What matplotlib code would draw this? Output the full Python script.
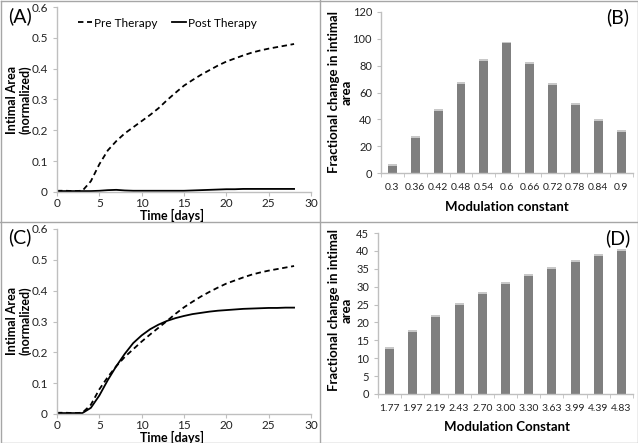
import matplotlib
matplotlib.use("Agg")
import matplotlib.pyplot as plt
from matplotlib.lines import Line2D

plt.rcParams['font.family'] = ['Lato', 'DejaVu Sans']

# time course data (days, normalized intimal area)
days = list(range(29))
pre_A = [0.004, 0.004, 0.003, 0.004, 0.035, 0.09, 0.135, 0.165, 0.19, 0.21,
         0.23, 0.25, 0.272, 0.298, 0.322, 0.345, 0.363, 0.38, 0.395, 0.41,
         0.423, 0.433, 0.443, 0.452, 0.459, 0.465, 0.47, 0.475, 0.48]
post_A = [0.003, 0.003, 0.003, 0.003, 0.003, 0.004, 0.006, 0.007, 0.005, 0.004,
          0.004, 0.004, 0.004, 0.004, 0.004, 0.004, 0.005, 0.006, 0.007, 0.008,
          0.009, 0.009, 0.01, 0.01, 0.01, 0.01, 0.01, 0.01, 0.01]
pre_C = [0.004, 0.004, 0.003, 0.004, 0.03, 0.08, 0.12, 0.155, 0.185, 0.21,
         0.235, 0.258, 0.28, 0.302, 0.325, 0.346, 0.364, 0.381, 0.396, 0.41,
         0.423, 0.433, 0.443, 0.452, 0.459, 0.465, 0.47, 0.475, 0.48]
post_C = [0.003, 0.003, 0.003, 0.003, 0.02, 0.06, 0.11, 0.155, 0.195, 0.23,
          0.255, 0.275, 0.29, 0.302, 0.311, 0.318, 0.324, 0.328, 0.332, 0.335,
          0.337, 0.339, 0.341, 0.342, 0.343, 0.344, 0.344, 0.345, 0.345]

# bar chart data
mod_B = ['0.3', '0.36', '0.42', '0.48', '0.54', '0.6', '0.66', '0.72', '0.78', '0.84', '0.9']
frac_B = [7, 27.5, 48, 67.5, 85, 98, 83, 67, 52, 40.5, 32]
mod_D = ['1.77', '1.97', '2.19', '2.43', '2.70', '3.00', '3.30', '3.63', '3.99', '4.39', '4.83']
frac_D = [13.2, 17.9, 22, 25.5, 28.5, 31.2, 33.6, 35.6, 37.5, 39.1, 40.5]

W, H = 638, 443
fig = plt.figure(figsize=(W / 100, H / 100), dpi=100)
grey = '#bfbfbf'


def px_axes(x0, y0, x1, y1):
    return fig.add_axes([x0 / W, 1 - y1 / H, (x1 - x0) / W, (y1 - y0) / H])


def style(ax, size):
    for s in ['top', 'right']:
        ax.spines[s].set_visible(False)
    for s in ['left', 'bottom']:
        ax.spines[s].set_color(grey)
        ax.spines[s].set_linewidth(1)
    ax.tick_params(which='both', direction='out', color=grey, labelsize=size,
                   labelcolor='#222222')


def curve_panel(ax, pre, post):
    ax.plot(days, pre, color='black', ls=(0, (3, 2)), lw=1.3, label='Pre Therapy')
    ax.plot(days, post, color='black', ls='-', lw=1.3, label='Post Therapy')
    ax.set_xlim(0, 30)
    ax.set_ylim(0, 0.6)
    ax.set_xticks(range(0, 31, 5))
    ax.set_yticks([0, 0.1, 0.2, 0.3, 0.4, 0.5, 0.6])
    ax.set_yticklabels(['0', '0.1', '0.2', '0.3', '0.4', '0.5', '0.6'])
    style(ax, 8.5)
    ax.tick_params(length=3)
    ax.tick_params(axis='x', pad=1.5)


# panel A
axA = px_axes(57, 7, 311, 192)
curve_panel(axA, pre_A, post_A)
axA.legend(ncol=2, loc='upper left', bbox_to_anchor=(0.04, 1.0), frameon=False,
           fontsize=8.5, handlelength=1.2, handletextpad=0.2, columnspacing=1.2)
fig.text(20 / W, 1 - 16 / H, '(A)', fontsize=14, ha='center', va='center')
fig.text(19 / W, 1 - 100 / H, 'Intimal Area\n(normalized)', rotation=90,
         fontsize=9, fontweight='bold', ha='center', va='center', linespacing=1.1)
fig.text(172 / W, 1 - 215.5 / H, 'Time [days]', fontsize=9, fontweight='bold',
         ha='center', va='center')

# panel C
axC = px_axes(57, 229, 311, 414)
curve_panel(axC, pre_C, post_C)
fig.text(20 / W, 1 - 237 / H, '(C)', fontsize=14, ha='center', va='center')
fig.text(19 / W, 1 - 321 / H, 'Intimal Area\n(normalized)', rotation=90,
         fontsize=9, fontweight='bold', ha='center', va='center', linespacing=1.1)
fig.text(172 / W, 1 - 437.5 / H, 'Time [days]', fontsize=9, fontweight='bold',
         ha='center', va='center')


def bar_panel(ax, labels, vals, ymax, ystep):
    x = list(range(len(labels)))
    ax.bar(x, vals, width=0.39, color='#7f7f7f', edgecolor='none')
    ax.bar(x, [ymax * 0.012] * len(x), bottom=[v - ymax * 0.012 for v in vals],
           width=0.39, color='#c8c8c8', edgecolor='none')
    ax.set_xlim(-0.5, len(labels) - 0.5)
    ax.set_ylim(0, ymax)
    ax.set_xticks(x)
    ax.set_xticklabels(labels)
    ax.set_xticks([i - 0.5 for i in range(len(labels) + 1)], minor=True)
    ax.set_yticks(list(range(0, ymax + 1, ystep)))
    style(ax, 8)
    ax.tick_params(axis='x', which='major', length=0, pad=7, labelsize=7.5)
    ax.tick_params(axis='x', which='minor', length=3)
    ax.tick_params(axis='y', length=3)


# panel B
axB = px_axes(381, 12, 632.5, 173)
bar_panel(axB, mod_B, frac_B, 120, 20)
fig.text(618 / W, 1 - 17 / H, '(B)', fontsize=14, ha='center', va='center')
fig.text(340 / W, 1 - 92 / H, 'Fractional change in intimal\narea', rotation=90,
         fontsize=9.5, fontweight='bold', ha='center', va='center', linespacing=1.1)
fig.text(507 / W, 1 - 207 / H, 'Modulation constant', fontsize=9.5, fontweight='bold',
         ha='center', va='center')

# panel D
axD = px_axes(378, 233, 633, 394)
bar_panel(axD, mod_D, frac_D, 45, 5)
fig.text(618 / W, 1 - 238 / H, '(D)', fontsize=14, ha='center', va='center')
fig.text(340 / W, 1 - 310 / H, 'Fractional change in intimal\narea', rotation=90,
         fontsize=9.5, fontweight='bold', ha='center', va='center', linespacing=1.1)
fig.text(507 / W, 1 - 427 / H, 'Modulation Constant', fontsize=9.5, fontweight='bold',
         ha='center', va='center')

# panel frames
frame = '#a6a6a6'
for xs, ys in [([0.5, 637.5, 637.5, 0.5, 0.5], [0.5, 0.5, 442.5, 442.5, 0.5]),
               ([320, 320], [0, 443]), ([0, 638], [222, 222])]:
    fig.add_artist(Line2D([x / W for x in xs], [1 - y / H for y in ys],
                          color=frame, lw=1))

plt.savefig('out.png', dpi=100)
